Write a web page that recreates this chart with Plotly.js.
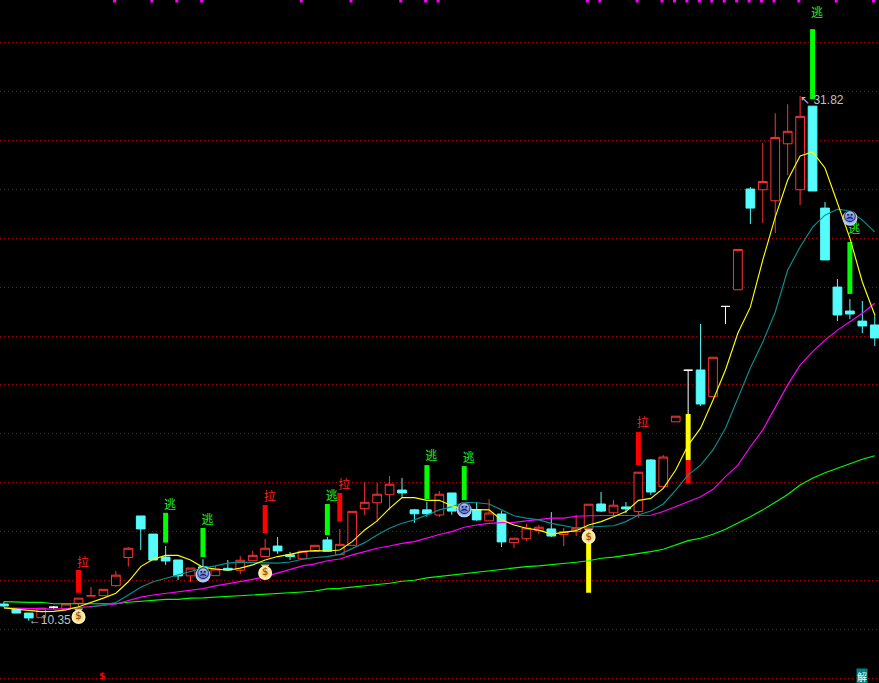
<!DOCTYPE html>
<html>
<head>
<meta charset="utf-8">
<script src="https://cdn.plot.ly/plotly-3.0.1.min.js"></script>
<style>html,body{margin:0;padding:0;background:#000;overflow:hidden}#c{width:879px;height:683px}</style>
</head>
<body>
<div id="c"></div>
<script>
const open_ = [11.04,10.83,10.67,10.48,10.91,10.84,11.07,11.37,11.38,11.79,12.94,14.64,13.90,12.96,12.84,12.19,12.56,12.20,12.50,12.42,12.81,12.98,13.41,13.05,12.89,13.20,13.66,13.06,13.44,14.94,15.18,15.51,15.70,14.89,14.89,14.68,15.58,14.97,14.89,14.44,14.72,13.55,13.71,14.04,14.11,13.88,14.00,14.14,15.13,14.77,15.01,14.82,16.93,15.84,18.49,20.60,20.61,19.52,23.21,23.89,28.01,27.98,27.53,29.86,27.98,31.40,27.23,24.00,23.02,22.61,22.45];
const close_ = [10.96,10.67,10.47,10.87,10.91,11.04,11.28,11.38,11.64,12.22,13.32,14.11,12.84,12.80,12.19,12.51,12.43,12.47,12.43,12.83,13.03,13.32,13.21,12.98,13.20,13.44,13.20,13.48,14.83,15.20,15.53,15.94,15.58,14.73,14.73,15.53,14.84,14.76,14.48,14.76,13.58,13.73,14.15,14.18,13.82,14.00,14.14,15.12,14.84,15.08,14.93,16.43,15.62,17.05,18.72,20.60,19.22,21.13,23.21,25.54,27.23,28.32,30.12,30.37,30.98,27.93,25.11,22.86,22.90,22.41,21.92];
const high_ = [11.14,10.83,10.67,10.87,10.96,11.04,11.28,11.74,11.64,12.39,13.37,14.64,13.90,13.41,12.84,12.51,12.88,12.60,12.84,13.00,13.21,13.70,13.78,13.17,13.20,13.44,13.78,14.11,14.83,16.03,15.99,16.28,16.19,14.93,15.21,15.66,15.58,15.17,15.21,15.33,14.84,13.73,14.31,14.27,14.80,14.15,14.68,15.12,15.62,15.29,15.21,16.43,16.97,17.13,18.72,20.60,22.49,21.13,23.21,25.54,28.09,29.89,31.11,31.48,31.82,31.40,27.48,24.33,23.51,23.43,22.90];
const low_ = [10.92,10.67,10.35,10.48,10.84,10.84,10.88,11.37,11.38,11.75,12.57,13.25,12.84,12.64,12.02,11.94,12.15,12.20,12.40,12.27,12.81,12.98,13.09,12.84,12.89,13.20,13.20,13.06,13.44,14.68,14.41,14.89,15.42,14.37,14.61,14.60,14.69,14.68,14.44,14.44,13.37,13.33,13.62,13.90,13.78,13.41,13.82,14.14,14.80,14.68,14.76,14.57,15.50,15.84,18.49,18.81,19.14,19.52,22.49,23.89,26.58,26.62,26.21,28.58,27.35,27.93,25.11,22.61,22.69,22.12,21.59];
const whiteDays = [4,55,58];

const maYellow = [10.88,10.84,10.77,10.73,10.74,10.80,10.93,11.10,11.28,11.48,11.95,12.57,12.87,13.03,13.03,12.84,12.54,12.47,12.42,12.51,12.64,12.84,12.98,13.07,13.18,13.22,13.21,13.25,13.59,14.07,14.44,14.95,15.39,15.39,15.28,15.28,15.06,14.91,14.91,14.89,14.48,14.27,14.14,14.06,13.90,13.96,14.04,14.27,14.41,14.61,14.82,15.28,15.36,15.77,16.52,17.54,18.23,19.38,20.61,22.12,23.18,25.11,26.86,28.38,29.36,29.53,28.87,27.44,26.00,24.21,22.86];
const maTeal = [null,null,null,null,null,null,null,10.92,11.00,11.10,11.41,11.73,11.95,12.09,12.23,12.34,12.51,12.60,12.71,12.75,12.73,12.71,12.71,12.76,12.87,12.94,12.98,13.07,13.30,13.55,13.86,14.14,14.34,14.48,14.68,14.89,15.02,15.20,15.18,15.13,14.89,14.65,14.55,14.48,14.34,14.23,14.15,14.19,14.23,14.24,14.41,14.68,14.84,15.13,15.70,16.32,16.72,17.34,18.23,19.46,20.69,21.75,22.98,24.70,25.64,26.45,26.94,27.18,27.12,26.74,26.26];
const maMagenta = [10.88,10.87,10.83,10.83,10.83,10.85,10.89,10.92,10.98,11.04,11.18,11.32,11.41,11.48,11.55,11.61,11.67,11.78,11.86,11.95,12.05,12.16,12.30,12.45,12.60,12.68,12.81,12.88,13.05,13.18,13.32,13.41,13.52,13.59,13.75,13.88,14.00,14.18,14.27,14.34,14.37,14.38,14.44,14.51,14.55,14.55,14.63,14.65,14.65,14.65,14.65,14.65,14.67,14.82,15.02,15.25,15.43,15.73,16.25,16.72,17.47,18.16,19.11,20.00,20.81,21.36,21.83,22.24,22.58,22.93,23.34];
const maGreen = [11.14,11.11,11.11,11.11,11.05,11.05,11.05,11.05,11.05,11.05,11.11,11.15,11.19,11.23,11.23,11.28,11.29,11.32,11.33,11.37,11.40,11.41,11.45,11.48,11.53,11.57,11.66,11.68,11.73,11.78,11.83,11.89,11.97,12.01,12.11,12.17,12.22,12.27,12.34,12.39,12.46,12.51,12.57,12.60,12.64,12.69,12.75,12.81,12.91,12.96,13.03,13.12,13.18,13.28,13.45,13.63,13.73,13.89,14.10,14.34,14.61,14.89,15.21,15.52,15.91,16.18,16.41,16.59,16.79,16.96,17.10];

const barDays = [6,13,16,21,26,27,34,37,47,51,55,55,65,68];
const barTop = [12.43,14.77,14.15,15.09,15.13,15.58,16.72,16.68,14.07,18.07,18.81,16.93,34.55,25.84];
const barBottom = [11.50,13.55,12.96,13.94,13.86,14.41,15.33,15.29,11.50,16.72,16.93,15.96,31.69,23.72];
const barColors = ['#FF0000','#00FF00','#00FF00','#FF0000','#00FF00','#FF0000','#00FF00','#00FF00','#FFFF00','#FF0000','#FFFF00','#FF0000','#00FF00','#00FF00'];

const laDays = [6,21,27,51];
const laPrice = [12.68,15.38,15.87,18.40];
const taoDays = [13,16,26,34,37,65,68];
const taoPrice = [15.05,14.44,15.42,17.05,16.97,35.16,26.33];

const bagDays = [6,21,47];
const bagPrice = [10.51,12.31,13.78];
const faceDays = [16,37,68];
const facePrice = [12.23,14.89,26.82];
const markDays = [9,12,14,16,24,28,32,34,35,47,48,51,53,54,55,56,57,58,59,60,61,62,64,67,70];
const markPrice = 35.70;

const days = open_.map((_, i) => i);
const isWhite = i => whiteDays.includes(i);
const normal = days.filter(i => !isWhite(i));
const pick = (arr, idx) => idx.map(i => arr[i]);

const traces = [];
traces.push({type:'bar', x:barDays, base:barBottom, y:barTop.map((t,i)=>t-barBottom[i]), width:0.4,
  marker:{color:barColors, line:{width:0}}, hoverinfo:'skip'});
traces.push({type:'candlestick', x:normal, open:pick(open_,normal), high:pick(high_,normal), low:pick(low_,normal), close:pick(close_,normal),
  increasing:{line:{color:'#FF3232',width:1}, fillcolor:'#000000'},
  decreasing:{line:{color:'#54FCFC',width:1}, fillcolor:'#54FCFC'}, hoverinfo:'skip'});
traces.push({type:'candlestick', x:whiteDays, open:pick(open_,whiteDays), high:pick(high_,whiteDays), low:pick(low_,whiteDays), close:pick(close_,whiteDays),
  increasing:{line:{color:'#FFFFFF',width:1}, fillcolor:'#FFFFFF'},
  decreasing:{line:{color:'#FFFFFF',width:1}, fillcolor:'#FFFFFF'}, hoverinfo:'skip'});
[[maGreen,'#00FF00'],[maMagenta,'#FF00FF'],[maTeal,'#0A9090'],[maYellow,'#FFFF00']].forEach(([v,c])=>{
  traces.push({type:'scatter', mode:'lines', x:days, y:v, line:{color:c,width:1.15}, hoverinfo:'skip', connectgaps:false});
});
traces.push({type:'scatter', mode:'markers', x:markDays.map(d=>d-0.1), y:markDays.map(()=>markPrice),
  marker:{symbol:'square', size:3, color:'#FF00FF', line:{width:0}}, hoverinfo:'skip'});
traces.push({type:'scatter', mode:'text', x:laDays.map(d=>d+0.36), y:laPrice, text:laDays.map(()=>'拉'), textposition:'middle center',
  textfont:{family:'Noto Sans CJK SC', size:12, color:'#FF2020'}, hoverinfo:'skip'});
traces.push({type:'scatter', mode:'text', x:taoDays.map(d=>d+0.36), y:taoPrice, text:taoDays.map(()=>'逃'), textposition:'middle center',
  textfont:{family:'Noto Sans CJK SC', size:12, color:'#20F020'}, hoverinfo:'skip'});
// money bags
traces.push({type:'scatter', mode:'markers', x:bagDays, y:bagPrice.map(p=>p+0.26),
  marker:{symbol:'triangle-down', size:8, color:'#E8C050', line:{width:0}}, hoverinfo:'skip'});
traces.push({type:'scatter', mode:'markers+text', x:bagDays, y:bagPrice, text:bagDays.map(()=>'$'), textposition:'middle center',
  textfont:{family:'DejaVu Sans', size:10, color:'#8B4010'},
  marker:{symbol:'circle', size:14, color:'#FFF8C8', gradient:{type:'radial', color:'#F0C040'}, line:{width:0}}, hoverinfo:'skip'});
// sad faces
traces.push({type:'scatter', mode:'markers+text', x:faceDays, y:facePrice, text:faceDays.map(()=>'☹'), textposition:'middle center',
  textfont:{family:'DejaVu Sans', size:13, color:'#101848'},
  marker:{symbol:'circle', size:15, color:'#C8D8FF', gradient:{type:'radial', color:'#4060D0'}, line:{width:0}}, hoverinfo:'skip'});
// extreme price labels
traces.push({type:'scatter', mode:'text', x:[2,64], y:[10.35,31.61], text:['←10.35','↖ 31.82'], textposition:'middle right',
  textfont:{family:'Liberation Sans', size:12, color:'#C0C0C0'}, hoverinfo:'skip'});

const layout = {
  width:879, height:683, margin:{l:0,r:0,t:0,b:0}, paper_bgcolor:'#000', plot_bgcolor:'#000',
  showlegend:false, boxgap:0.3, boxgroupgap:0, boxmode:'overlay', barmode:'overlay', hovermode:false,
  xaxis:{range:[-0.313,70.34], showgrid:false, zeroline:false, showline:false, showticklabels:false, ticks:'', rangeslider:{visible:false}},
  yaxis:{range:[7.81,35.74], dtick:2, tick0:10, showgrid:true, gridcolor:'#B00000', gridwidth:1, griddash:'1px,3px', zeroline:false, showline:false, showticklabels:false, ticks:''},
  annotations:[
    {x:7.87, y:8.08, xref:'x', yref:'y', text:'<b>$</b>', showarrow:false, font:{family:'DejaVu Sans', size:9, color:'#FF0000'}},
    {x:69, y:8.08, xref:'x', yref:'y', text:'解', showarrow:false, bgcolor:'#008080', borderpad:0, font:{family:'Noto Sans CJK SC', size:10, color:'#FFFFFF'}}
  ]
};
Plotly.newPlot('c', traces, layout, {displayModeBar:false, staticPlot:true});
</script>
</body>
</html>
